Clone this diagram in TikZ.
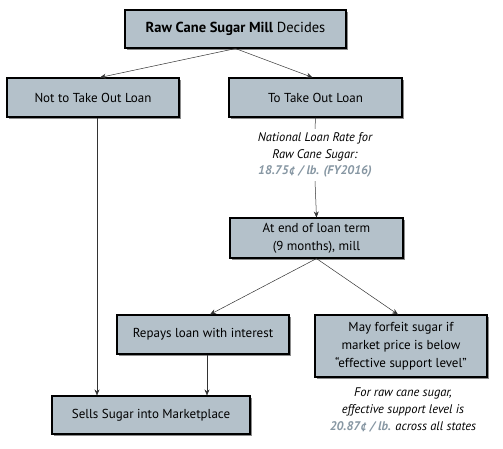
\documentclass[tikz,border=0pt]{standalone}
\usepackage{fontspec}
\setmainfont{PT Sans}
\usetikzlibrary{shadows,arrows.meta}
\definecolor{boxfill}{HTML}{B4C1CA}
\definecolor{ratecol}{HTML}{8797A3}
\tikzset{
box/.style = {draw, line width = 1.1pt, fill = boxfill, align = center,
  drop shadow = {shadow xshift = 2pt, shadow yshift = -2pt, fill = black!45, opacity = 1},
  inner sep = 2pt, font = \fontsize{13}{18}\selectfont},
note/.style = {align = center, font = \fontsize{12.5}{16.8}\selectfont\itshape},
link/.style = {draw = black!80, line width = .5pt, -{Stealth[length = 6pt, width = 5pt]}}
}
\begin{document}
\begin{tikzpicture}[x = 1pt, y = -1pt]
\useasboundingbox (0,0) rectangle (503,448);
% boxes
\node[box, minimum width = 221, minimum height = 38] (mill) at (235.5,29) {\fontsize{14.5}{18}\selectfont\textbf{Raw Cane Sugar Mill} Decides};
\node[box, minimum width = 172, minimum height = 39] (noloan) at (93,97.5) {Not to Take Out Loan};
\node[box, minimum width = 173, minimum height = 39] (loan) at (315.5,97.5) {To Take Out Loan};
\node[note] (rate) at (315,155) {National Loan Rate for\\Raw Cane Sugar:\\\textcolor{ratecol}{\textbf{18.75¢ / lb. (FY2016)}}};
\node[box, minimum width = 173, minimum height = 40] (term) at (316.5,238) {At end of loan term\\(9 months), mill};
\node[box, minimum width = 172, minimum height = 39] (repay) at (203,334.5) {Repays loan with interest};
\node[box, minimum width = 172, minimum height = 62] (forfeit) at (401,346) {May forfeit sugar if\\market price is below\\“effective support level”};
\node[box, minimum width = 198, minimum height = 38] (sells) at (151,415) {Sells Sugar into Marketplace};
\node[note] (level) at (403,410) {For raw cane sugar,\\effective support level is\\\textcolor{ratecol}{\textbf{20.87¢ / lb.}} across all states};
% connectors
\draw[link] (mill.south) -- ([xshift = 7]noloan.north);
\draw[link] (mill.south) -- ([xshift = -3]loan.north);
\draw[draw = black!80, line width = .5pt] (loan.south) -- (rate.north);
\draw[link] (rate.south) -- (term.north);
\draw[link] (term.south) -- ([xshift = 7]repay.north);
\draw[link] (term.south) -- ([xshift = -3]forfeit.north);
\draw[link] ([xshift = 4]noloan.south) -- ([xshift = 4]noloan.south |- sells.north);
\draw[link] ([xshift = 4]repay.south) -- ([xshift = 4]repay.south |- sells.north);
\end{tikzpicture}
\end{document}
